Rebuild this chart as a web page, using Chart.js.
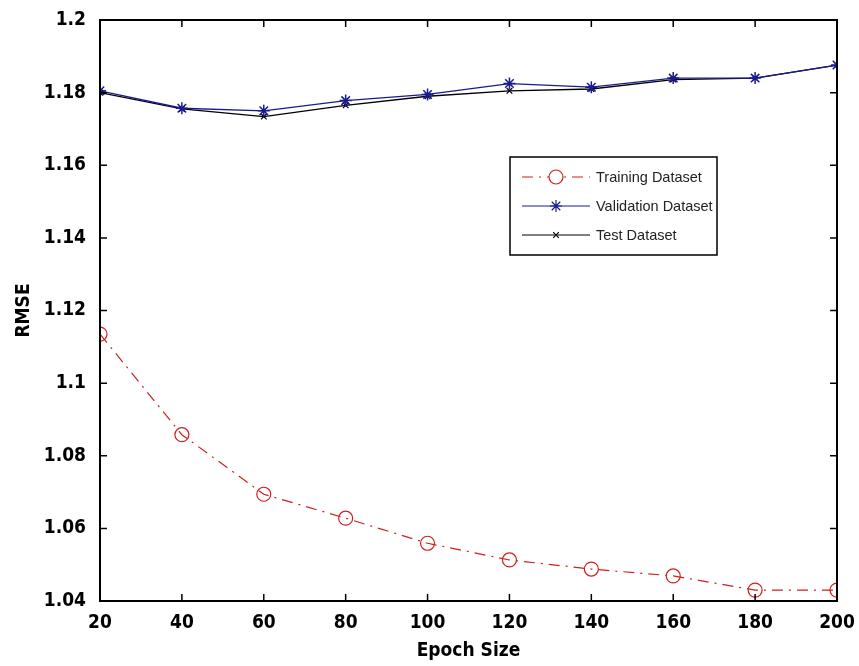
<!DOCTYPE html>
<html>
<head>
<meta charset="utf-8">
<script src="https://cdn.jsdelivr.net/npm/chart.js@4"></script>
<style>
  body { margin: 0; background: #fff; }
  #wrap { width: 859px; height: 666px; }
</style>
</head>
<body>
<div id="wrap"><canvas id="rmse-chart" width="859" height="666"></canvas></div>
<script>
// epoch sizes on the x axis
let epochs = [20, 40, 60, 80, 100, 120, 140, 160, 180, 200];

// RMSE
let trainRmse = [1.1135, 1.0858, 1.0694, 1.0628, 1.0559, 1.0513, 1.0488, 1.0469, 1.0430, 1.0430];
let validRmse = [1.1805, 1.1757, 1.1750, 1.1778, 1.1795, 1.1825, 1.1815, 1.1840, 1.1840, 1.1876];
let testRmse  = [1.1800, 1.1755, 1.1734, 1.1765, 1.1790, 1.1805, 1.1810, 1.1836, 1.1840, 1.1876];

let xTicks = [20, 40, 60, 80, 100, 120, 140, 160, 180, 200];
let yTicks = [1.04, 1.06, 1.08, 1.1, 1.12, 1.14, 1.16, 1.18, 1.2];

let legendNames = ['Training Dataset', 'Validation Dataset', 'Test Dataset'];

const tickFont = { family: "'Liberation Sans Narrow', 'DejaVu Sans Condensed', Arial, sans-serif", size: 19, weight: 'bold' };

function toPoints(vals) {
  return epochs.map((e, i) => ({ x: e, y: vals[i] }));
}

// matlab style box with inward ticks + legend inside the axes
const boxPlugin = {
  id: 'matlabBox',
  afterDatasetsDraw(chart) {
    const ctx = chart.ctx;
    const a = chart.chartArea;
    const xs = chart.scales.x, ys = chart.scales.y;
    ctx.save();
    ctx.strokeStyle = '#000';
    ctx.lineWidth = 2;
    ctx.strokeRect(a.left, a.top, a.right - a.left, a.bottom - a.top);
    ctx.lineWidth = 1.5;
    ctx.beginPath();
    xTicks.forEach(t => {
      const px = xs.getPixelForValue(t);
      ctx.moveTo(px, a.bottom); ctx.lineTo(px, a.bottom - 7);
      ctx.moveTo(px, a.top); ctx.lineTo(px, a.top + 7);
    });
    yTicks.forEach(t => {
      const py = ys.getPixelForValue(t);
      ctx.moveTo(a.left, py); ctx.lineTo(a.left + 7, py);
      ctx.moveTo(a.right, py); ctx.lineTo(a.right - 7, py);
    });
    ctx.stroke();

    // legend
    const lx = 510, ly = 157, lw = 207, lh = 98;
    ctx.fillStyle = '#fff';
    ctx.fillRect(lx, ly, lw, lh);
    ctx.lineWidth = 1.5;
    ctx.strokeStyle = '#000';
    ctx.strokeRect(lx, ly, lw, lh);
    ctx.font = "14.5px 'Liberation Sans', Arial, sans-serif";
    ctx.textBaseline = 'middle';
    chart.data.datasets.forEach((ds, i) => {
      const cy = ly + 20 + i * 29;
      ctx.strokeStyle = ds.borderColor;
      ctx.lineWidth = 1.2;
      ctx.setLineDash(ds.borderDash || []);
      ctx.beginPath();
      ctx.moveTo(lx + 12, cy); ctx.lineTo(lx + 80, cy);
      ctx.stroke();
      ctx.setLineDash([]);
      Chart.helpers.drawPoint(ctx, {
        pointStyle: ds.pointStyle, radius: ds.pointRadius, borderWidth: 1.2, rotation: 0
      }, lx + 46, cy);
      ctx.fillStyle = '#222';
      ctx.fillText(legendNames[i], lx + 86, cy + 1);
    });
    ctx.restore();
  }
};

new Chart(document.getElementById('rmse-chart').getContext('2d'), {
  type: 'line',
  data: {
    datasets: [
      {
        label: legendNames[0],
        data: toPoints(trainRmse),
        borderColor: '#cc2020',
        backgroundColor: 'rgba(255,255,255,0)',
        borderWidth: 1.2,
        borderDash: [11, 6, 2, 6],
        pointStyle: 'circle',
        pointRadius: 7,
        pointBorderWidth: 1.2
      },
      {
        label: legendNames[1],
        data: toPoints(validRmse),
        borderColor: '#1a1a90',
        backgroundColor: '#1a1a90',
        borderWidth: 1.3,
        pointStyle: 'star',
        pointRadius: 6,
        pointBorderWidth: 1.5
      },
      {
        label: legendNames[2],
        data: toPoints(testRmse),
        borderColor: '#000',
        backgroundColor: '#000',
        borderWidth: 1.3,
        pointStyle: 'crossRot',
        pointRadius: 4,
        pointBorderWidth: 1.2
      }
    ]
  },
  options: {
    responsive: false,
    animation: false,
    layout: { padding: { left: 9, right: 22, top: 20, bottom: 0 } },
    plugins: { legend: { display: false }, tooltip: { enabled: false } },
    scales: {
      x: {
        type: 'linear',
        min: 20, max: 200,
        afterBuildTicks: s => { s.ticks = xTicks.map(v => ({ value: v })); },
        afterFit: s => { s.height = 65; s.paddingLeft = 0; s.paddingRight = 0; },
        grid: { display: false, drawTicks: false },
        border: { display: false },
        ticks: { color: '#000', font: tickFont, padding: 11, maxRotation: 0 },
        title: { display: true, text: 'Epoch Size', color: '#000', font: tickFont, padding: { top: 3 } }
      },
      y: {
        min: 1.04, max: 1.2,
        afterBuildTicks: s => { s.ticks = yTicks.map(v => ({ value: v })); },
        afterFit: s => { s.width = 91; s.paddingTop = 0; s.paddingBottom = 0; },
        grid: { display: false, drawTicks: false },
        border: { display: false },
        ticks: {
          color: '#000', font: tickFont, padding: 14,
          callback: v => String(Number(v.toFixed(2)))
        },
        title: { display: true, text: 'RMSE', color: '#000', font: tickFont, padding: { bottom: 0 } }
      }
    }
  },
  plugins: [boxPlugin]
});
</script>
</body>
</html>
